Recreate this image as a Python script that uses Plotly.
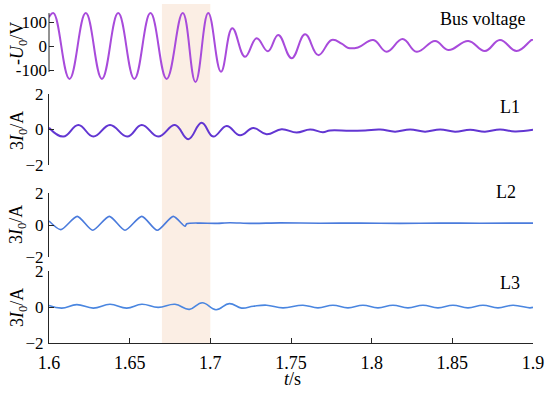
import plotly.graph_objects as go

# ---------------- data ----------------
bus_t = [1.6000, 1.6028, 1.6127, 1.6228, 1.6328, 1.6429, 1.6529, 1.6629, 1.6729, 1.6829,
         1.6908, 1.6987, 1.7066, 1.7136, 1.7215, 1.7287, 1.7357, 1.7421, 1.7504, 1.7587,
         1.7669, 1.7752, 1.7814, 1.7855, 1.7915, 1.8010, 1.8093, 1.8192, 1.8279, 1.8393,
         1.8475, 1.8599, 1.8702, 1.8795, 1.8899, 1.8992, 1.9000]
bus_v = [120, 137, -137, 137, -137, 137, -137, 137, -137, 137,
         -150, 137, -107, 74, -45, 32, -22, 46, -51, 49,
         -38, 25, 10, -8, -6, 25, -24, 29, -24, 21,
         -17, 21, -21, 25, -21, 25, 24]

l1_t = [1.6000, 1.6089, 1.6182, 1.6275, 1.6378, 1.6485, 1.6575, 1.6677, 1.6781, 1.6863,
        1.6946, 1.7018, 1.7101, 1.7184, 1.7266, 1.7349, 1.7442, 1.7535, 1.7618, 1.7698,
        1.7742, 1.7866, 1.7959, 1.8052, 1.8145, 1.8238, 1.8331, 1.8424, 1.8517, 1.8610,
        1.8702, 1.8795, 1.8888, 1.9000]
l1_v = [0.10, -0.40, 0.25, -0.40, 0.25, -0.40, 0.25, -0.40, 0.25, -0.55,
        0.38, -0.40, 0.20, -0.33, 0.08, -0.27, 0.02, -0.17, 0.00, -0.15,
        -0.05, -0.07, -0.05, 0.00, -0.12, 0.00, -0.12, 0.00, -0.12, -0.01,
        -0.12, 0.00, -0.11, -0.02]

l2_t = [1.6000, 1.6073, 1.6175, 1.6271, 1.6374, 1.6471, 1.6575, 1.6671, 1.6770, 1.6843,
        1.6854, 1.6936, 1.7029, 1.7122, 1.7246, 1.7432, 1.7680, 1.7928, 1.8176, 1.8424,
        1.8671, 1.9000]
l2_v = [0.25, -0.29, 0.54, -0.33, 0.54, -0.33, 0.54, -0.33, 0.54, -0.08,
        0.08, 0.12, 0.10, 0.14, 0.10, 0.13, 0.11, 0.12, 0.10, 0.12,
        0.11, 0.12]

l3_t = [1.6000, 1.6079, 1.6172, 1.6275, 1.6378, 1.6482, 1.6575, 1.6677, 1.6781, 1.6870,
        1.6950, 1.7035, 1.7118, 1.7194, 1.7266, 1.7349, 1.7450, 1.7574, 1.7667, 1.7760,
        1.7853, 1.7946, 1.8039, 1.8132, 1.8225, 1.8318, 1.8411, 1.8504, 1.8597, 1.8690,
        1.8783, 1.8876, 1.8981, 1.9000]
l3_v = [0.09, -0.06, 0.13, -0.06, 0.15, -0.06, 0.15, -0.02, 0.15, -0.13,
        0.24, -0.15, 0.19, -0.06, 0.04, 0.10, -0.05, 0.10, -0.05, 0.10,
        -0.05, 0.10, -0.05, 0.10, -0.05, 0.10, -0.05, 0.10, -0.05, 0.10,
        -0.05, 0.10, -0.05, -0.02]

x_ticks = [1.6, 1.65, 1.7, 1.75, 1.8, 1.85, 1.9]
x_tick_labels = ["1.6", "1.65", "1.7", "1.75", "1.8", "1.85", "1.9"]
bus_ticks = [-100, 0, 100]
bus_tick_labels = ["-100", "0", "100"]
cur_ticks = [-2, 0, 2]
cur_tick_labels = ["\u22122", "0", "2"]
fault_window = [1.67, 1.70]
panel_names = ["Bus voltage", "L1", "L2", "L3"]

FONT = "Liberation Serif"
AX = "#262626"
FS = 17

fig = go.Figure()
fig.add_trace(go.Scatter(x=bus_t, y=bus_v, mode="lines", yaxis="y",
                         line=dict(color="#A84BDB", width=2, shape="spline", smoothing=1.2)))
fig.add_trace(go.Scatter(x=l1_t, y=l1_v, mode="lines", yaxis="y2",
                         line=dict(color="#6236D2", width=2, shape="spline", smoothing=1.2)))
fig.add_trace(go.Scatter(x=l2_t, y=l2_v, mode="lines", yaxis="y3",
                         line=dict(color="#4A7BDC", width=1.6, shape="spline", smoothing=0.7)))
fig.add_trace(go.Scatter(x=l3_t, y=l3_v, mode="lines", yaxis="y4",
                         line=dict(color="#4A86E0", width=1.6, shape="spline", smoothing=1.2)))

H = 343.0
def dom(top_px, bot_px):
    return [(H - bot_px) / H, (H - top_px) / H]

ycommon = dict(anchor="x", ticks="inside", ticklen=5, tickwidth=1, tickcolor=AX,
               linecolor=AX, linewidth=1, showgrid=False, zeroline=False, automargin=False,
               tickfont=dict(family=FONT, size=FS, color="black"), fixedrange=True,
               ticklabelstandoff=1)

fig.update_layout(
    width=550, height=393,
    margin=dict(l=49, r=17, t=0, b=50, autoexpand=False),
    paper_bgcolor="white", plot_bgcolor="rgba(0,0,0,0)",
    font=dict(family=FONT, size=FS, color="black"),
    showlegend=False,
    xaxis=dict(range=[1.6, 1.9], anchor="y4", tickvals=x_ticks, ticktext=x_tick_labels,
               ticks="inside", ticklen=5, tickwidth=1, tickcolor=AX, showline=True,
               linecolor=AX, linewidth=1, showgrid=False, zeroline=False, automargin=False,
               tickfont=dict(family=FONT, size=FS + 1, color="black"), ticklabelstandoff=3),
    yaxis=dict(domain=dom(6, 84), range=[(46 - 84) * 100 / 24, (46 - 6) * 100 / 24],
               tickvals=bus_ticks, ticktext=bus_tick_labels, showline=False, **ycommon),
    yaxis2=dict(domain=dom(94, 165), range=[-2, 2], tickvals=cur_ticks,
                ticktext=cur_tick_labels, showline=True, **ycommon),
    yaxis3=dict(domain=dom(193, 257), range=[-2, 2], tickvals=cur_ticks,
                ticktext=cur_tick_labels, showline=True, **ycommon),
    yaxis4=dict(domain=dom(271, 343), range=[-2, 2], tickvals=cur_ticks,
                ticktext=cur_tick_labels, showline=True, **ycommon),
)

# shaded fault window
fig.add_shape(type="rect", xref="x", yref="paper", x0=fault_window[0], x1=fault_window[1],
              y0=0, y1=(H - 4) / H, fillcolor="rgb(251,238,228)", line=dict(width=0),
              layer="below")
# bus-voltage axis line (shorter than panel)
fig.add_shape(type="line", xref="paper", yref="y", x0=0, x1=0, y0=-108, y1=137,
              line=dict(color=AX, width=1))

# panel names
for name, xr, yc in zip(panel_names, [528, 522, 518, 522], [19, 107, 192, 283]):
    fig.add_annotation(text=name, xref="paper", yref="paper",
                       x=(xr - 49) / 484, y=(H - yc) / H, xanchor="right", yanchor="middle",
                       showarrow=False, font=dict(family=FONT, size=FS + 1, color="black"))

# y titles
titles = ["-<i>U</i><sub>0</sub>/V", "3<i>I</i><sub>0</sub>/A",
          "3<i>I</i><sub>0</sub>/A", "3<i>I</i><sub>0</sub>/A"]
for ttl, yc in zip(titles, [44, 131, 225, 308]):
    fig.add_annotation(text=ttl, xref="paper", yref="paper", x=(18 - 49) / 484,
                       y=(H - yc) / H, xanchor="center", yanchor="middle", textangle=-90,
                       showarrow=False, font=dict(family=FONT, size=FS + 1, color="black"))

fig.add_annotation(text="<i>t</i>/s", xref="paper", yref="paper", x=(292 - 49) / 484,
                   y=(H - 379) / H, xanchor="center", yanchor="middle", showarrow=False,
                   font=dict(family=FONT, size=FS + 1, color="black"))

fig.write_html("out.html", config={"displayModeBar": False},
               post_script="document.body.style.margin='0';")
